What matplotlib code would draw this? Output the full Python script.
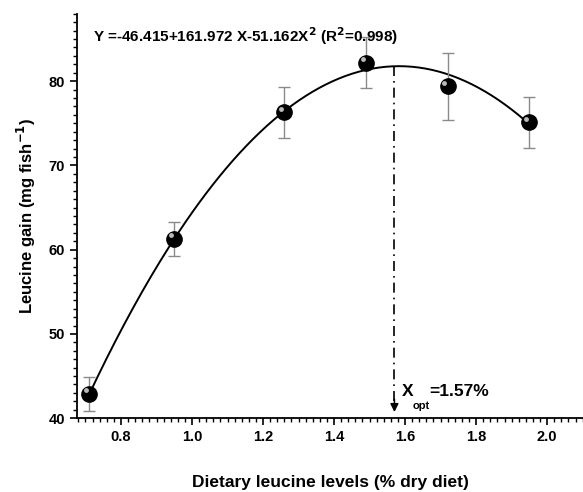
import matplotlib
matplotlib.use('Agg')
import matplotlib.pyplot as plt
import matplotlib.transforms as mtransforms
from matplotlib.ticker import MultipleLocator
import numpy as np

plt.rcParams['font.family'] = ['Liberation Sans', 'DejaVu Sans']
plt.rcParams['font.weight'] = 'bold'

# data
leucine_level = [0.71, 0.95, 1.26, 1.49, 1.72, 1.95]
leucine_gain = [42.9, 61.3, 76.3, 82.2, 79.4, 75.1]
gain_err = [2.0, 2.0, 3.0, 3.0, 4.0, 3.0]

# quadratic fit from the equation in the chart
coef_a, coef_b, coef_c = -46.415, 161.972, -51.162
x_opt = 1.57

fig = plt.figure(figsize=(5.83, 4.92), dpi=100)
ax = fig.add_axes([0.132, 0.150, 0.868, 0.822])

# fitted curve
xs = np.linspace(min(leucine_level), max(leucine_level), 200)
ys = coef_a + coef_b * xs + coef_c * xs ** 2
ax.plot(xs, ys, color='black', lw=1.4, zorder=2)

# error bars
ax.errorbar(leucine_level, leucine_gain, yerr=gain_err, fmt='none',
            ecolor='#8a8a8a', elinewidth=1.0, capsize=4.5, capthick=1.0, zorder=3)

# sphere-like markers: black ball plus a small highlight
ax.plot(leucine_level, leucine_gain, 'o', color='black', ms=11, zorder=4)
shift = mtransforms.ScaledTranslation(-2.4 / 72, 2.4 / 72, fig.dpi_scale_trans)
ax.plot(leucine_level, leucine_gain, 'o', color='#d0d0d0', ms=3.5, mec='none',
        alpha=0.9, transform=ax.transData + shift, zorder=5)

# optimum marker line with arrow
y_peak = coef_a + coef_b * x_opt + coef_c * x_opt ** 2
ax.plot([x_opt, x_opt], [y_peak, 42.0], color='black', lw=1.2,
        linestyle=(0, (6, 3, 1, 3)), zorder=2)
ax.annotate('', xy=(x_opt, 40.4), xytext=(x_opt, 42.6),
            arrowprops=dict(arrowstyle='-|>', color='black', lw=1.1,
                            mutation_scale=12))

ax.text(1.59, 43.2, 'X', fontsize=12.5, fontweight='bold', ha='left', va='center')
ax.text(1.62, 41.5, 'opt', fontsize=8, fontweight='bold', ha='left', va='center')
ax.text(1.668, 43.2, '=1.57%', fontsize=12.5, fontweight='bold', ha='left', va='center')

ax.text(0.72, 85.4, r'Y =-46.415+161.972 X-51.162X$^\mathbf{2}$ (R$^\mathbf{2}$=0.998)',
        fontsize=11, fontweight='bold', ha='left', va='center')

ax.set_xlim(0.676, 2.101)
ax.set_ylim(40, 88)
ax.xaxis.set_major_locator(MultipleLocator(0.2))
ax.xaxis.set_minor_locator(MultipleLocator(0.02))
ax.yaxis.set_major_locator(MultipleLocator(10))
ax.yaxis.set_minor_locator(MultipleLocator(1))
ax.set_xticks([0.8, 1.0, 1.2, 1.4, 1.6, 1.8, 2.0])
ax.set_yticks([40, 50, 60, 70, 80])

for side in ['top', 'right']:
    ax.spines[side].set_visible(False)
for side in ['left', 'bottom']:
    ax.spines[side].set_linewidth(1.3)

ax.tick_params(which='major', direction='out', length=5, width=1.2, labelsize=10.5)
ax.tick_params(which='minor', direction='out', length=3, width=1.0)
for lab in ax.get_xticklabels() + ax.get_yticklabels():
    lab.set_fontweight('bold')

ax.set_ylabel(r'Leucine gain (mg fish$^{\mathbf{-1}}$)', fontsize=12,
              fontweight='bold', labelpad=8)
ax.set_xlabel('Dietary leucine levels (% dry diet)', fontsize=12.5,
              fontweight='bold', labelpad=22)

plt.savefig('out.png', dpi=100)
plt.close(fig)
